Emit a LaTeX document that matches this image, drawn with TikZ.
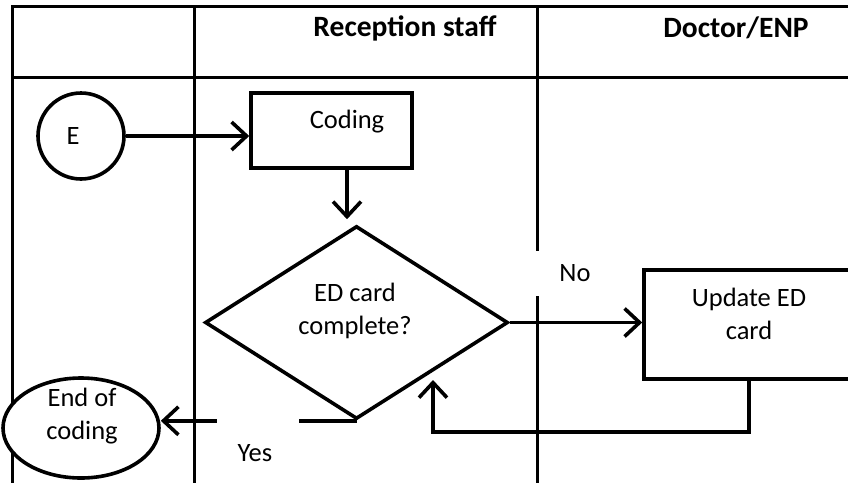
\documentclass[tikz,border=0pt]{standalone}
\usepackage{fontspec}
\setmainfont{Carlito}
\usetikzlibrary{arrows.meta,shapes.geometric}
\begin{document}
\begin{tikzpicture}[x=1pt,y=-1pt,line join=miter,
  lane/.style={line width=3pt},
  shp/.style={draw,line width=3.6pt,inner sep=0pt},
  arr/.style={line width=3.6pt,-{Straight Barb[length=15pt,width=28pt]}},
  txt/.style={font=\fontsize{26.5}{33}\selectfont,align=center,inner sep=0pt},
  hdr/.style={font=\bfseries\fontsize{29.5}{33}\selectfont,inner sep=0pt},
  lbl/.style={fill=white,inner sep=0pt,font=\fontsize{26.5}{33}\selectfont}]
\useasboundingbox (0,0) rectangle (848,482);
% swimlane table
\draw[lane] (12,490) -- (12,6) -- (860,6);
\draw[lane] (12,77) -- (860,77);
\draw[lane] (194,6) -- (194,490);
\draw[lane] (537,6) -- (537,490);
% headers
\node[hdr] (h1) at (405,28) {Reception staff};
\node[hdr] (h2) at (736,28) {Doctor/ENP};
% shapes
\node[shp,circle,minimum size=86pt] (E) at (81,136) {};
\node[txt] (Et) at (73,136) {E};
\node[shp,rectangle,minimum width=161pt,minimum height=75pt] (coding) at (331.5,130.5) {};
\node[txt] (codt) at (347,122) {Coding};
\node[shp,diamond,minimum width=303pt,minimum height=193pt] (dia) at (356.5,322.5) {};
\node[txt] (diat) at (355,311) {ED card\\complete?};
\node[shp,rectangle,minimum width=210pt,minimum height=109pt] (upd) at (749,324.5) {};
\node[txt] (updt) at (749,314) {Update ED\\card};
\node[shp,ellipse,fill=white,minimum width=156pt,minimum height=100pt] (endc) at (81,428) {};
\node[txt] (endt) at (82,416) {End of\\coding};
% connectors
\draw[arr] (E.east) -- (E.east -| coding.west);
\draw[arr] (coding.south -| codt) -- ([yshift=5pt]dia.north -| codt);
\draw[arr] (dia.east) -- (dia.east -| upd.west);
\coordinate (loopc) at (433,432);
\coordinate (looptip) at (433,380);
\draw[arr] (upd.south) |- (loopc) -- (looptip);
\draw[arr] (dia.south) -- (dia.south -| endc.east);
% labels
\node[lbl,minimum width=90pt,minimum height=45pt] (no) at (575,273) {No};
\node[lbl,minimum width=82pt,minimum height=64pt] (yes) at (258,448) {};
\node[txt] (yest) at (255,453) {Yes};
\end{tikzpicture}
\end{document}
